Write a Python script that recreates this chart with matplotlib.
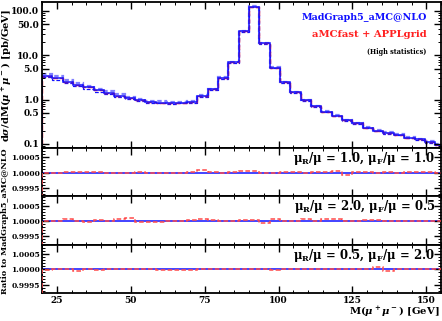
import matplotlib
matplotlib.use("Agg")
import matplotlib.pyplot as plt
from matplotlib.ticker import FixedLocator, MultipleLocator, FormatStrFormatter, NullFormatter
import numpy as np

# binning: 3.5 GeV bins from 20 GeV
bin_width = 3.5
n_bins = 39
edges = 20 + bin_width * np.arange(n_bins + 1)

# central prediction dsigma/dM [pb/GeV]
central = [3.45, 3.05, 2.52, 2.18, 1.90, 1.62, 1.42, 1.23, 1.08, 0.96,
           0.89, 0.86, 0.84, 0.86, 0.88, 1.20, 1.70, 3.07, 6.9, 34.5,
           126.0, 18.5, 5.2, 2.45, 1.45, 0.97, 0.71, 0.535, 0.43, 0.34,
           0.29, 0.23, 0.20, 0.177, 0.163, 0.139, 0.126, 0.111, 0.097]

# scale variation band (relative to central)
band_up = [1.11, 1.10, 1.10, 1.09, 1.09, 1.08, 1.08, 1.07, 1.07, 1.06,
           1.06, 1.06, 1.05, 1.05, 1.05, 1.04, 1.04, 1.03, 1.03, 1.03,
           1.03, 1.03, 1.03, 1.03, 1.03, 1.03, 1.03, 1.03, 1.03, 1.03,
           1.03, 1.03, 1.03, 1.03, 1.03, 1.03, 1.03, 1.03, 1.03]
band_dn = [0.92, 0.92, 0.93, 0.93, 0.93, 0.94, 0.94, 0.94, 0.95, 0.95,
           0.95, 0.95, 0.95, 0.96, 0.96, 0.96, 0.97, 0.97, 0.97, 0.97,
           0.97, 0.97, 0.97, 0.97, 0.97, 0.97, 0.97, 0.97, 0.97, 0.97,
           0.97, 0.97, 0.97, 0.97, 0.97, 0.97, 0.97, 0.97, 0.97]

# aMCfast/MG5 ratio deviations, units of 1e-5
dev_1 = [-3, 0, 1, 1, 1, 2, -1, -2, 0, 1, -1, 0, 0, 0, 1, 7, 3,
         0, 1, 5, 5, 0, -3, 1, 1, 0, 1, 2, 5, -9, 1, 1, 0, 1, 0, 1, 1, 3, 0]
dev_2 = [0, 0, 8, 0, -3, 2, -1, 5, 10, -2, -2, -2, 1, 1, 3, 5, 2,
         -1, 0, 2, 2, -5, 5, 0, 1, 6, 0, 7, 7, 1, 0, 4, 4, 0, 0, -1, 0, 0, 0]
dev_3 = [-2, 0, 2, -5, 3, -1, 0, 0, 1, 2, 2, -1, -3, -3, -3, 2, 3,
         0, 0, 3, 3, 0, -3, 2, 2, 1, 2, 2, 2, 1, 2, 2, 9, -5, 2, 2, 2, 2, 2]

panel_labels = [r"$\mathbf{\mu_R/\mu}$ = 1.0, $\mathbf{\mu_F/\mu}$ = 1.0",
                r"$\mathbf{\mu_R/\mu}$ = 2.0, $\mathbf{\mu_F/\mu}$ = 0.5",
                r"$\mathbf{\mu_R/\mu}$ = 0.5, $\mathbf{\mu_F/\mu}$ = 2.0"]

plt.rcParams['font.family'] = ['DejaVu Serif']
plt.rcParams['font.weight'] = 'bold'
plt.rcParams['mathtext.fontset'] = 'dejavuserif'

blue = '#1010ff'
light = '#8080ff'
red = '#ff2020'

fig = plt.figure(figsize=(4.42, 3.21), dpi=100)
left, width = 0.095, 0.903
ax = fig.add_axes([left, 0.539, width, 0.455])
rax = [fig.add_axes([left, 0.539 - 0.151 * (i + 1), width, 0.151]) for i in range(3)]

central = np.array(central)
ax.stairs(central * np.array(band_up), edges, baseline=None, color=light, lw=1.6, ls=(0, (2, 1.2)))
ax.stairs(central * np.array(band_dn), edges, baseline=None, color=blue, lw=0.9, ls=(0, (3, 1.5)))
ax.stairs(central, edges, baseline=1e-3, color=red, lw=1.0, ls='--')
ax.stairs(central, edges, baseline=1e-3, color=blue, lw=1.1)
ax.set_yscale('log')
ax.set_ylim(0.081, 160)
ax.yaxis.set_major_locator(FixedLocator([0.1, 0.5, 1, 5, 10, 50, 100]))
ax.yaxis.set_major_formatter(FormatStrFormatter('%.1f'))
minors = [m * 10.0 ** e for e in range(-2, 3) for m in (2, 3, 4, 6, 7, 8, 9)]
ax.yaxis.set_minor_locator(FixedLocator(minors))
ax.yaxis.set_minor_formatter(NullFormatter())
ax.tick_params(labelbottom=False)

ax.text(0.965, 0.893, "MadGraph5_aMC@NLO", color=blue, fontsize=6.9,
        ha='right', va='center', transform=ax.transAxes)
ax.text(0.965, 0.776, "aMCfast + APPLgrid", color=red, fontsize=7.2,
        ha='right', va='center', transform=ax.transAxes)
ax.text(0.962, 0.66, "(High statistics)", color='black', fontsize=4.7,
        ha='right', va='center', transform=ax.transAxes)

devs = [dev_1, dev_2, dev_3]
for i, r in enumerate(rax):
    ratio = 1 + np.array(devs[i]) * 1e-5
    r.stairs(np.ones(n_bins), edges, baseline=0, color=blue, lw=1.1)
    r.stairs(ratio, edges, baseline=0, color='#ff4a4a', lw=1.1, ls=(0, (3, 1.5)), zorder=3)
    r.set_ylim(0.99921, 1.00081)
    r.yaxis.set_major_locator(FixedLocator([0.9995, 1.0, 1.0005]))
    r.yaxis.set_major_formatter(FormatStrFormatter('%.4f'))
    r.yaxis.set_minor_locator(MultipleLocator(0.0001))
    r.text(0.985, 0.79, panel_labels[i], fontsize=8.4, ha='right', va='center',
           transform=r.transAxes)
    if i < 2:
        r.tick_params(labelbottom=False)

# axis titles placed in figure coordinates
fig.text(6 / 442, 1 - 75 / 321, r"d$\sigma$/dM($\mu^+\mu^-$) [pb/GeV]", fontsize=7.2,
         rotation=90, ha='center', va='center')
fig.text(5 / 442, 1 - 221 / 321, "Ratio to MadGraph5_aMC@NLO", fontsize=5.9,
         rotation=90, ha='center', va='center')
fig.text(440 / 442, 1 - 311 / 321, r"M($\mu^+\mu^-$) [GeV]", fontsize=7.2,
         ha='right', va='center')

for a in [ax] + rax:
    a.set_xlim(20, 155)
    a.xaxis.set_major_locator(FixedLocator([25, 50, 75, 100, 125, 150]))
    a.xaxis.set_minor_locator(MultipleLocator(5))
    a.tick_params(which='both', direction='in', top=True, right=True, labelsize=6.5, pad=2)
    a.tick_params(which='major', length=5, width=1.0)
    a.tick_params(which='minor', length=2.5, width=0.7)
    for s in a.spines.values():
        s.set_linewidth(1.3)

for r in rax:
    r.tick_params(axis='y', labelsize=5.4, pad=1.5)

fig.savefig('out.png', dpi=100)
